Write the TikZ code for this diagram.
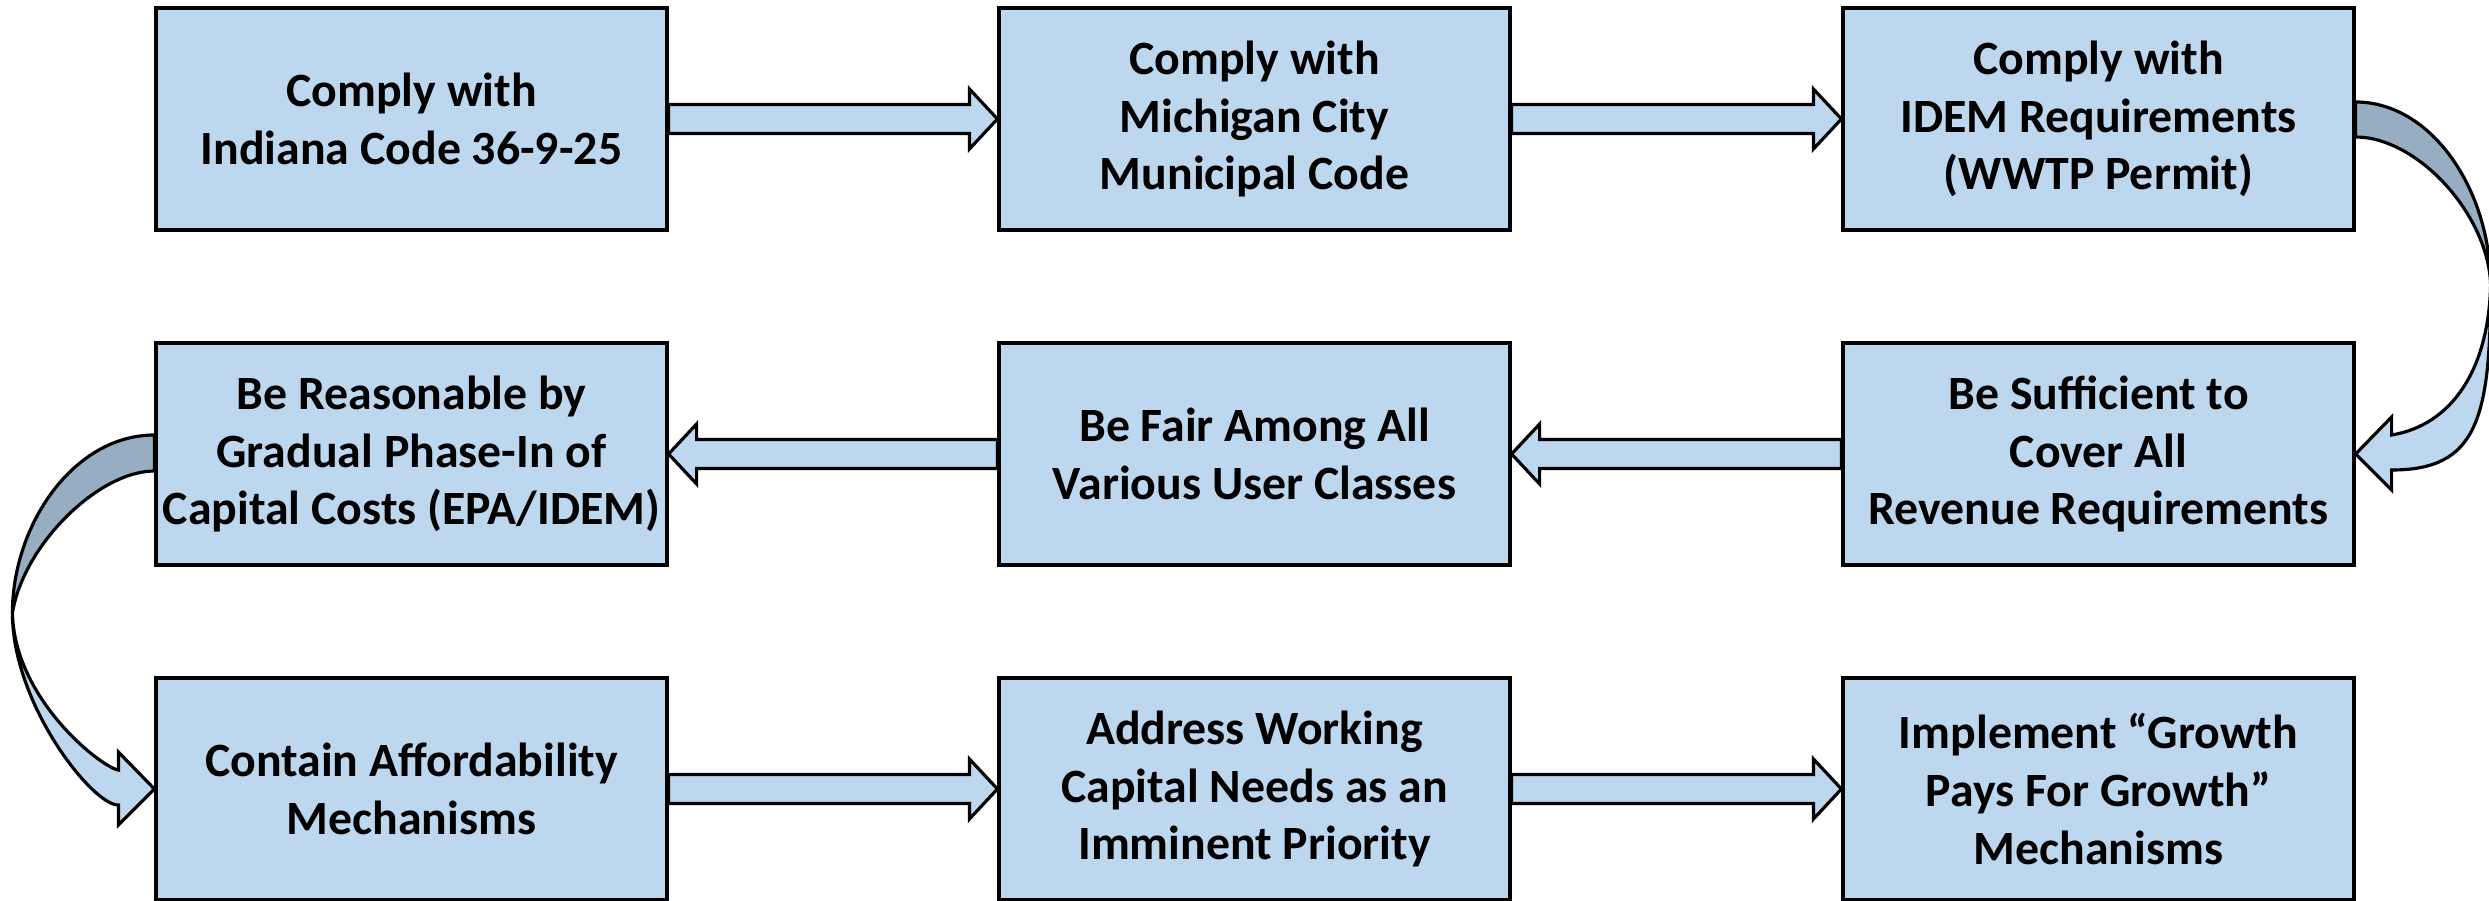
\documentclass[tikz,border=0pt]{standalone}
\usepackage{fontspec}
\setmainfont{Carlito}
\usetikzlibrary{calc}
\definecolor{boxblue}{HTML}{BDD7EE}
\definecolor{backblue}{HTML}{97ADC1}
\tikzset{
  stepbox/.style={draw, line width=0.9pt, fill=boxblue, minimum width=5.11cm, minimum height=2.22cm,
    inner sep=0pt, align=center, font=\bfseries\fontsize{13.6pt}{16.4pt}\selectfont},
  arrowbody/.style={draw, line width=0.9pt, fill=boxblue, line join=miter},
  arrowback/.style={draw, line width=0.9pt, fill=backblue}
}
\newcommand{\fatarrow}[3]{%
\draw[arrowbody] ($(#1)+(0,0.145)$) -- ($(#2)+({-0.28*(#3)},0.145)$) -- ($(#2)+({-0.28*(#3)},0.30)$) -- (#2)
  -- ($(#2)+({-0.28*(#3)},-0.30)$) -- ($(#2)+({-0.28*(#3)},-0.145)$) -- ($(#1)+(0,-0.145)$) -- cycle;}

\begin{document}
\begin{tikzpicture}
\useasboundingbox (0,0) rectangle (24.89,9);

\node[stepbox] (indiana) at (4.115,7.81) {Comply with\\Indiana Code 36-9-25};
\node[stepbox] (city) at (12.545,7.81) {Comply with\\Michigan City\\Municipal Code};
\node[stepbox] (idem) at (20.985,7.81) {Comply with\\IDEM Requirements\\(WWTP Permit)};
\node[stepbox] (phase) at (4.115,4.46) {Be Reasonable by\\Gradual Phase-In of\\Capital Costs (EPA/IDEM)};
\node[stepbox] (fair) at (12.545,4.46) {Be Fair Among All\\Various User Classes};
\node[stepbox] (suff) at (20.985,4.46) {Be Sufficient to\\Cover All\\Revenue Requirements};
\node[stepbox] (afford) at (4.115,1.11) {Contain Affordability\\Mechanisms};
\node[stepbox] (capital) at (12.545,1.11) {Address Working\\Capital Needs as an\\Imminent Priority};
\node[stepbox] (growth) at (20.985,1.11) {Implement “Growth\\Pays For Growth”\\Mechanisms};

\fatarrow{indiana.east}{city.west}{1}
\fatarrow{city.east}{idem.west}{1}
\fatarrow{suff.west}{fair.east}{-1}
\fatarrow{fair.west}{phase.east}{-1}
\fatarrow{afford.east}{capital.west}{1}
\fatarrow{capital.east}{growth.west}{1}

\begin{scope}[shift={(idem.east)}]
\draw[arrowback] (0,0.17) .. controls (0.76,0.17) and (1.35,-0.71) .. (1.35,-1.66)
  .. controls (1.33,-0.96) and (0.62,-0.18) .. (0,-0.18) -- cycle;
\draw[arrowbody] (1.35,-1.66) .. controls (1.35,-3.01) and (1.21,-3.51) .. (0.36,-3.51)
  -- (0.36,-3.71) -- (suff.east) -- (0.36,-2.98) -- (0.36,-3.16)
  .. controls (0.96,-3.06) and (1.33,-2.51) .. (1.35,-1.66) -- cycle;
\end{scope}

\begin{scope}[shift={(phase.west)}]
\draw[arrowback] (0,0.19) .. controls (-0.81,0.19) and (-1.42,-0.71) .. (-1.42,-1.59)
  .. controls (-1.31,-0.91) and (-0.56,-0.17) .. (0,-0.17) -- cycle;
\draw[arrowbody] (-1.42,-1.59) .. controls (-1.42,-2.51) and (-0.61,-3.52) .. (-0.36,-3.51)
  -- (-0.36,-3.71) -- (afford.west) -- (-0.36,-2.98) -- (-0.36,-3.16)
  .. controls (-0.52,-3.14) and (-1.40,-2.46) .. (-1.42,-1.59) -- cycle;
\end{scope}
\end{tikzpicture}
\end{document}
